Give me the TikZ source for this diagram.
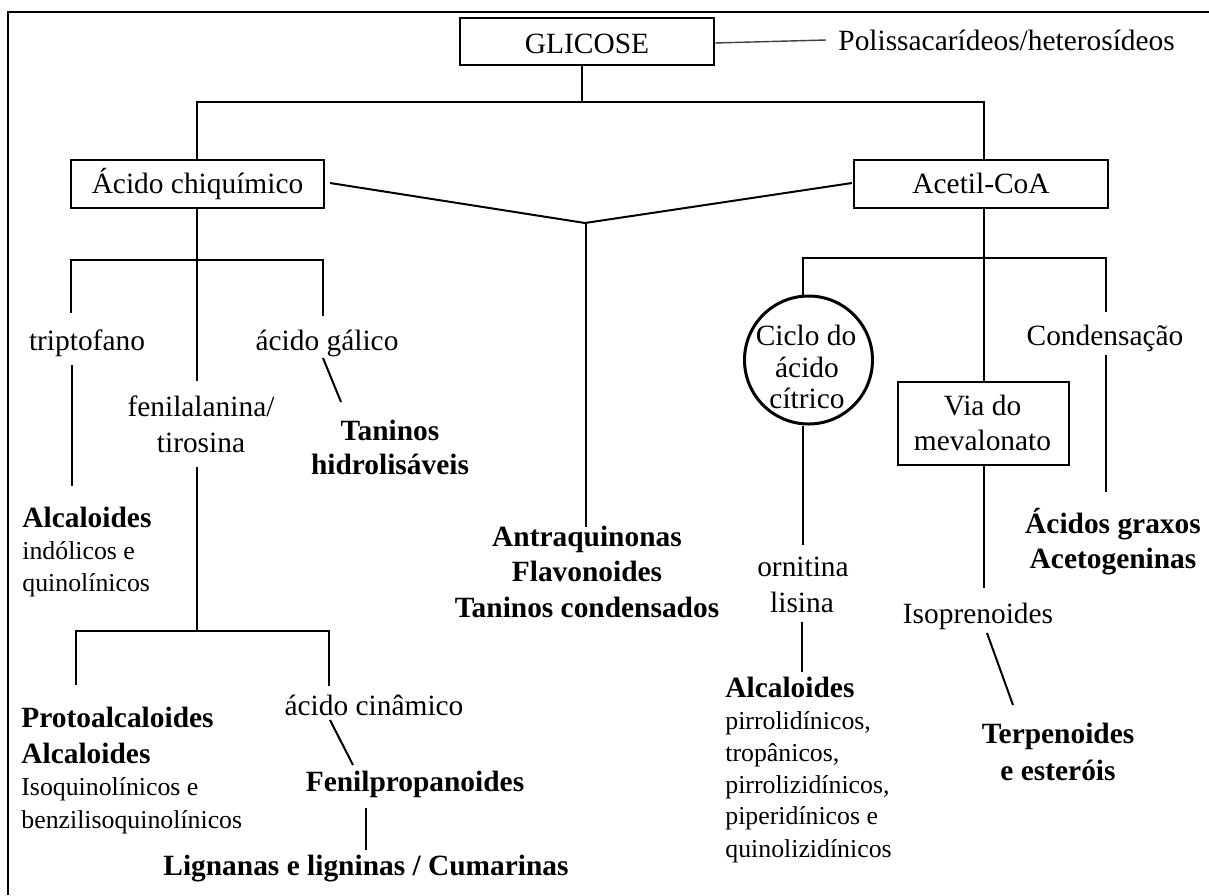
\documentclass[tikz,border=0pt]{standalone}
\usepackage{fontspec}
\setmainfont{Liberation Serif}
\begin{document}
\begin{tikzpicture}[x=0.5pt,y=-0.5pt,
  big/.style={font=\fontsize{14.7}{17}\selectfont, inner sep=0pt, anchor=base},
  bigb/.style={font=\fontsize{14.7}{17}\selectfont\bfseries, inner sep=0pt, anchor=base},
  bigbl/.style={bigb, anchor=base west},
  small/.style={font=\fontsize{12.9}{15}\selectfont, inner sep=0pt, anchor=base west},
  box/.style={draw, line width=0.75pt, inner sep=0pt, font=\fontsize{14.7}{17}\selectfont, text height=11pt, text depth=2pt},
  conn/.style={line width=1pt},
  thinconn/.style={line width=0.7pt, draw=black!75}
]
\useasboundingbox (0,0) rectangle (1209,895);
% frame
\draw[line width=1.2pt] (8,895) -- (8,12) -- (1209,12);

% boxes
\node[box, text height=13.5pt, minimum width=127pt, minimum height=23.5pt] (glic) at (587,41.5) {GLICOSE};
\node[box, minimum width=126.5pt, minimum height=24pt] (chiq) at (197.5,184) {Ácido chiquímico};
\node[box, minimum width=127pt, minimum height=24pt] (acetil) at (981,184) {Acetil-CoA};
\node[draw, line width=0.75pt, inner sep=0pt, minimum width=85.5pt, minimum height=41.5pt] (via) at (983.5,423.5) {};
\node[draw, circle, line width=1.5pt, inner sep=0pt, minimum size=64pt] (ciclo) at (808.5,360) {};

% texts
\node[big, anchor=base west] (poli) at (838,50) {Polissacarídeos/heterosídeos};
\node[big] (trip) at (87,350) {triptofano};
\node[big] (galico) at (327,350) {ácido gálico};
\node[big] (fenil1) at (201,416) {fenilalanina/};
\node[big] (fenil2) at (201,452) {tirosina};
\node[bigb] (tanh1) at (390,440) {Taninos};
\node[bigb] (tanh2) at (390,474) {hidrolisáveis};
\node[bigbl] (alcA) at (22,527) {Alcaloides};
\node[small] (alcA2) at (22,559) {indólicos e};
\node[small] (alcA3) at (22,591) {quinolínicos};
\node[bigb] (antra1) at (587,546) {Antraquinonas};
\node[bigb] (antra2) at (587,581) {Flavonoides};
\node[bigb] (antra3) at (587,617) {Taninos condensados};
\node[bigbl] (proto1) at (21,727) {Protoalcaloides};
\node[bigbl] (proto2) at (21,763) {Alcaloides};
\node[small] (proto3) at (21,795) {Isoquinolínicos e};
\node[small] (proto4) at (21,828) {benzilisoquinolínicos};
\node[big] (cina) at (374,715) {ácido cinâmico};
\node[bigb] (fenilp) at (415,791) {Fenilpropanoides};
\node[bigb] (lign) at (366,875) {Lignanas e ligninas / Cumarinas};

\node[big] (cic1) at (806,345) {Ciclo do};
\node[big] (cic2) at (807,377) {ácido};
\node[big] (cic3) at (807,408) {cítrico};
\node[big] (via1) at (982.5,415) {Via do};
\node[big] (via2) at (982.5,450) {mevalonato};
\node[big] (cond) at (1105,345) {Condensação};
\node[bigb] (acg1) at (1113,533) {Ácidos graxos};
\node[bigb] (acg2) at (1113,568) {Acetogeninas};
\node[big] (orn1) at (803,576) {ornitina};
\node[big] (orn2) at (802,612) {lisina};
\node[big] (isop) at (978,623) {Isoprenoides};
\node[bigb] (terp1) at (1058,743) {Terpenoides};
\node[bigb] (terp2) at (1058,780) {e esteróis};
\node[bigbl] (alcR) at (725,697) {Alcaloides};
\node[small] (alcR2) at (725,729) {pirrolidínicos,};
\node[small] (alcR3) at (725,761) {tropânicos,};
\node[small] (alcR4) at (725,793) {pirrolizidínicos,};
\node[small] (alcR5) at (725,824) {piperidínicos e};
\node[small] (alcR6) at (725,857) {quinolizidínicos};

% junction coordinates
\coordinate (jTop) at (582,102);
\coordinate (jV) at (585,223);
\coordinate (jChiq) at (197,260);
\coordinate (jFen) at (197,631);
\coordinate (jAc) at (984,258);

% connectors
\draw[thinconn] (glic.east |- 0,43) -- (826,40);
\draw[conn] (glic.south -| jTop) -- (jTop);
\draw[conn] (chiq.north -| 197,0) |- (jTop) -| (acetil.north -| 984,0);
\draw[conn] (330,183) -- (jV) -- (852,183);
\draw[conn] (586,223) -- (586,527);
% chiquimico branch
\draw[conn] (chiq.south -| jChiq) -- (197,381);
\draw[conn] (71,313) -- (71,260) -- (323,260) -- (323,316);
\draw[conn] (72,365) -- (72,486);
\draw[conn] (323,358) -- (341,402);
\draw[conn] (197,467) -- (jFen);
\draw[conn] (76,685) -- (76,631) -- (329,631) -- (329,686);
\draw[conn] (330,720) -- (353,765);
\draw[conn] (366,808) -- (366,850);
% acetil branch
\draw[conn] (acetil.south -| jAc) -- (via.north -| jAc);
\draw[conn] (ciclo.north -| 803,0) -- (803,258) -- (1106,258) -- (1106,312);
\draw[conn] (ciclo.south -| 803,0) -- (803,545);
\draw[conn] (802,622) -- (802,672);
\draw[conn] (via.south -| jAc) -- (984,588);
\draw[conn] (987,633) -- (1013,705);
\draw[conn] (1106,355) -- (1106,492);
\end{tikzpicture}
\end{document}
